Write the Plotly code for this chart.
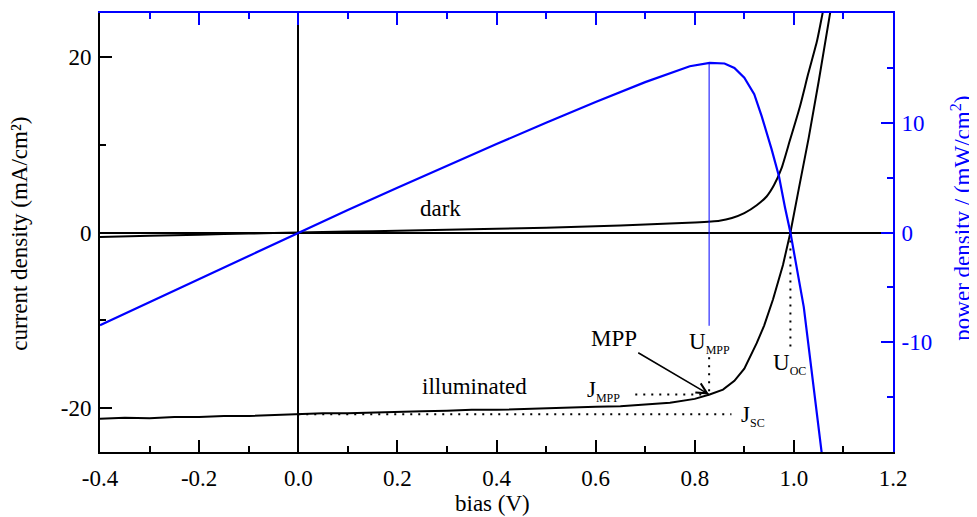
import plotly.graph_objects as go

# ---------------- data ----------------
V_ill = [-0.40, -0.35, -0.30, -0.25, -0.20, -0.15, -0.10, -0.05, 0.00, 0.05, 0.10, 0.15,
         0.20, 0.25, 0.30, 0.35, 0.40, 0.45, 0.50, 0.55, 0.60, 0.65, 0.70, 0.75, 0.80,
         0.83, 0.857, 0.88, 0.90, 0.925, 0.94, 0.958, 0.978, 0.993, 1.01, 1.03, 1.05, 1.072, 1.085]
J_ill = [-21.2, -21.1, -21.15, -21.0, -21.0, -20.9, -20.9, -20.8, -20.75, -20.6, -20.6, -20.5,
         -20.4, -20.35, -20.3, -20.2, -20.2, -20.1, -20.0, -19.95, -19.85, -19.8, -19.6, -19.4, -18.95,
         -18.45, -17.9, -16.9, -15.5, -12.6, -10.6, -7.6, -3.7, 0.0, 5.0, 10.8, 17.2, 25.0, 29.0]

V_dark = [-0.40, -0.30, -0.20, -0.10, 0.00, 0.10, 0.20, 0.30, 0.40, 0.50, 0.60, 0.70, 0.80,
          0.85, 0.875, 0.90, 0.925, 0.945, 0.96, 0.975, 0.992, 1.012, 1.029, 1.047, 1.058, 1.07]
J_dark = [-0.5, -0.38, -0.25, -0.12, 0.0, 0.1, 0.2, 0.3, 0.42, 0.55, 0.7, 0.9, 1.15,
          1.35, 1.65, 2.2, 3.1, 4.1, 5.4, 7.3, 10.5, 14.3, 18.1, 21.9, 25.0, 28.5]

V_pow = [-0.40, -0.30, -0.20, -0.10, 0.00, 0.10, 0.20, 0.30, 0.40, 0.50, 0.60, 0.70, 0.79,
         0.83, 0.86, 0.88, 0.90, 0.92, 0.935, 0.955, 0.97, 0.982, 0.993, 1.02, 1.04, 1.06]
P_pow = [-8.45, -6.35, -4.2, -2.09, 0.0, 2.06, 4.08, 6.09, 8.06, 10.0, 11.9, 13.7, 15.15,
         15.45, 15.4, 15.0, 14.1, 12.6, 10.6, 7.6, 5.1, 2.3, 0.0, -6.8, -14.2, -21.5]

V_MPP = 0.829
J_MPP = -18.45
P_MPP = 15.45
V_OC = 0.993
J_SC = -20.7

x_ticks = [-0.4, -0.2, 0.0, 0.2, 0.4, 0.6, 0.8, 1.0, 1.2]
x_ticktext = ["-0.4", "-0.2", "0.0", "0.2", "0.4", "0.6", "0.8", "1.0", "1.2"]
x_minor = [-0.3, -0.1, 0.1, 0.3, 0.5, 0.7, 0.9, 1.1]
yl_ticks = [-20, 0, 20]
yl_ticktext = ["-20", "0", "20"]
yl_minor = [-10, 10]
yr_ticks = [-10, 0, 10]
yr_ticktext = ["-10", "0", "10"]
yr_minor = [-15, -5, 5, 15]

BLUE = "#0000ff"
FONT = "Liberation Serif"
FS = 23


def sub(main, s):
    return f"{main}<sub><span style='font-size:12px'>{s}</span></sub>"


fig = go.Figure()

# guide lines (dotted)
dot = dict(color="black", width=2, dash="2px,6px")
fig.add_trace(go.Scatter(x=[0.0, 0.874], y=[J_SC, J_SC], mode="lines", line=dot, hoverinfo="skip"))
fig.add_trace(go.Scatter(x=[0.68, V_MPP], y=[J_MPP, J_MPP], mode="lines", line=dot, hoverinfo="skip"))
fig.add_trace(go.Scatter(x=[V_MPP, V_MPP], y=[-14.2, J_MPP], mode="lines", line=dot, hoverinfo="skip"))
fig.add_trace(go.Scatter(x=[V_OC, V_OC], y=[0, -13.4], mode="lines", line=dot, hoverinfo="skip"))

# curves
fig.add_trace(go.Scatter(x=V_dark, y=J_dark, mode="lines", line=dict(color="black", width=2, shape="spline", smoothing=0.6)))
fig.add_trace(go.Scatter(x=V_ill, y=J_ill, mode="lines", line=dict(color="black", width=2)))
fig.add_trace(go.Scatter(x=V_pow, y=P_pow, mode="lines", line=dict(color=BLUE, width=2.2), yaxis="y2"))
fig.add_trace(go.Scatter(x=[V_MPP, V_MPP], y=[P_MPP, -8.5], mode="lines",
                         line=dict(color=BLUE, width=1), yaxis="y2"))
# anchor trace for the blue top axis
fig.add_trace(go.Scatter(x=[None], y=[None], xaxis="x2", yaxis="y2", showlegend=False))

tfont = dict(family=FONT, size=FS, color="black")
ann = [
    dict(x=0.288, y=2.7, text="dark"),
    dict(x=0.356, y=-17.5, text="illuminated"),
    dict(x=0.616, y=-18.0, text=sub("J", "MPP")),
    dict(x=0.830, y=-12.6, text=sub("U", "MPP")),
    dict(x=0.992, y=-15.0, text=sub("U", "OC")),
    dict(x=0.918, y=-20.9, text=sub("J", "SC")),
]
annotations = [dict(a, xref="x", yref="y", showarrow=False, font=tfont) for a in ann]
# MPP label with arrow
annotations.append(dict(x=V_MPP, y=J_MPP, xref="x", yref="y", ax=0.638, ay=-12.1,
                        axref="x", ayref="y", text="MPP", font=tfont, showarrow=True,
                        arrowhead=5, arrowsize=1.3, arrowwidth=1.6, arrowcolor="black"))
# axis titles
annotations += [
    dict(x=-0.1009, y=0.497, xref="paper", yref="paper", text="current density (mA/cm²)",
         textangle=-90, showarrow=False, font=tfont, xanchor="center", yanchor="middle"),
    dict(x=1.086, y=0.532, xref="paper", yref="paper",
         text="power density / (mW/cm<sup>2</sup>)", textangle=-90, showarrow=False,
         font=dict(family=FONT, size=FS, color=BLUE), xanchor="center", yanchor="middle"),
    dict(x=0.495, y=-0.117, xref="paper", yref="paper", text="bias (V)", showarrow=False,
         font=tfont, xanchor="center", yanchor="middle"),
]

axis_common = dict(showgrid=False, showline=True, linewidth=2, ticks="inside",
                   ticklen=12, tickwidth=2)

fig.update_layout(
    width=977, height=517,
    margin=dict(l=92, r=92, t=5, b=73),
    paper_bgcolor="white", plot_bgcolor="white",
    showlegend=False,
    font=dict(family=FONT, size=FS, color="black"),
    annotations=annotations,
    xaxis=dict(axis_common, range=[-0.4, 1.2], tickmode="array", tickvals=x_ticks,
               ticktext=x_ticktext, linecolor="black", tickcolor="black",
               minor=dict(tickmode="array", tickvals=x_minor, ticks="inside", ticklen=6,
                          tickwidth=2, tickcolor="black"),
               zeroline=True, zerolinecolor="black", zerolinewidth=1.5,
               ticklabelstandoff=4),
    xaxis2=dict(axis_common, range=[-0.4, 1.2], overlaying="x", side="top", anchor="y2",
                tickmode="array", tickvals=x_ticks, ticktext=x_ticktext, showticklabels=False,
                linecolor=BLUE, tickcolor=BLUE, zeroline=False,
                minor=dict(tickmode="array", tickvals=x_minor, ticks="inside", ticklen=6,
                           tickwidth=2, tickcolor=BLUE)),
    yaxis=dict(axis_common, range=[-25, 25], tickmode="array", tickvals=yl_ticks,
               ticktext=yl_ticktext, linecolor="black", tickcolor="black",
               minor=dict(tickmode="array", tickvals=yl_minor, ticks="inside", ticklen=6,
                          tickwidth=2, tickcolor="black"),
               zeroline=True, zerolinecolor="black", zerolinewidth=2,
               ticklabelstandoff=2),
    yaxis2=dict(axis_common, range=[-20, 20], overlaying="y", side="right", anchor="x",
                tickmode="array", tickvals=yr_ticks, ticktext=yr_ticktext,
                linecolor=BLUE, tickcolor=BLUE, zeroline=False,
                tickfont=dict(color=BLUE, family=FONT, size=FS),
                minor=dict(tickmode="array", tickvals=yr_minor, ticks="inside", ticklen=6,
                           tickwidth=2, tickcolor=BLUE),
                ticklabelstandoff=2),
)

fig.write_html("out.html", config={"displayModeBar": False})
